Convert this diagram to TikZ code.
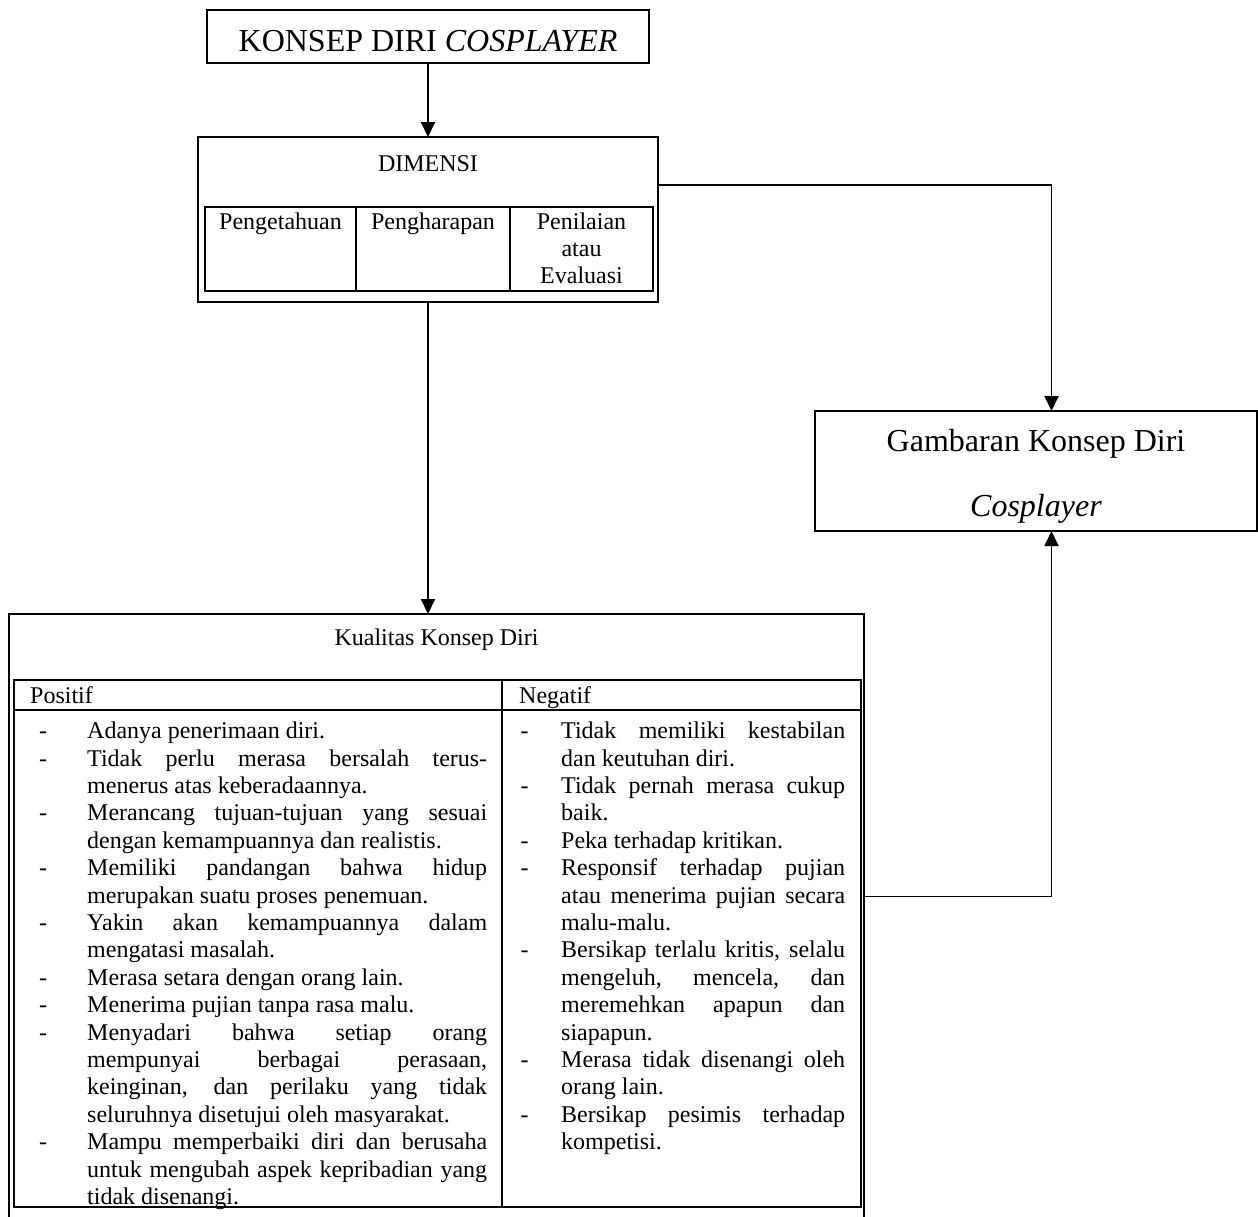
\documentclass[tikz,border=0pt]{standalone}
\usepackage{fontspec}
\setmainfont{Liberation Serif}
\usetikzlibrary{positioning,arrows.meta}
\tolerance=10000
\hyphenpenalty=10000

\newlength{\indenbutir}
\newlength{\geserbutir}
\newcommand{\butir}{\par\noindent\hangindent=\indenbutir\hangafter=1%
  \makebox[\indenbutir][l]{\hspace{\geserbutir}-}}

\tikzset{
    kotak/.style={draw, rectangle, line width=1.5pt, inner sep=0pt, outer sep=0pt},
    sel/.style={draw, rectangle, line width=2.2pt, inner sep=0pt, outer sep=0pt},
    teks/.style={inner sep=0pt, font=\fontsize{24}{27.4}\selectfont},
    besar/.style={inner sep=0pt, font=\fontsize{32}{36}\selectfont},
    daftar/.style n args={3}{teks, anchor=north west, align=justify, text width=#1,
        execute at begin node={\setlength{\indenbutir}{#2}\setlength{\geserbutir}{#3}}}
}

\begin{document}
\begin{tikzpicture}[x=1pt, y=-1pt, >={Triangle[length=15pt, width=14pt]}]
    \useasboundingbox (0,0) rectangle (1258,1216);

    \node[kotak, besar, minimum width=442pt, minimum height=53pt, text height=29pt, text depth=0pt] (judul) at (428,36.5) {KONSEP DIRI \textit{COSPLAYER}};

    \node[kotak, minimum width=460pt, minimum height=165pt] (dimensi) at (428,219.5) {};
    \node[teks, anchor=base, yshift=-34pt] (tdimensi) at (dimensi.north) {DIMENSI};
    \node[sel, minimum width=151pt, minimum height=84pt] (peng) at (280.5,249) {};
    \node[sel, minimum width=154pt, minimum height=84pt, right=0pt of peng] (harap) {};
    \node[sel, minimum width=143pt, minimum height=84pt, right=0pt of harap] (nilai) {};
    \node[teks, anchor=base, yshift=-22pt] (tpeng) at (peng.north) {Pengetahuan};
    \node[teks, anchor=base, yshift=-22pt] (tharap) at (harap.north) {Pengharapan};
    \node[teks, anchor=base, yshift=-22pt, align=center, text width=140pt] (tnilai) at (nilai.north) {Penilaian\\atau\\Evaluasi};

    \node[kotak, minimum width=442pt, minimum height=120pt] (gambaran) at (1036,471) {};
    \node[besar, anchor=base, yshift=-40pt] (tgambaran) at (gambaran.north) {Gambaran Konsep Diri};
    \node[besar, anchor=base, yshift=15pt] (tcosplayer) at (gambaran.south) {\textit{Cosplayer}};

    \node[kotak, minimum width=855pt, minimum height=604pt] (kualitas) at (436.5,916) {};
    \node[teks, anchor=base, yshift=-31pt] (tkualitas) at (kualitas.north) {Kualitas Konsep Diri};
    \node[sel, minimum width=488pt, minimum height=30pt] (hpos) at (258,695) {};
    \node[sel, minimum width=359pt, minimum height=30pt, right=0pt of hpos] (hneg) {};
    \node[sel, minimum width=488pt, minimum height=497pt, below=0pt of hpos] (bpos) {};
    \node[sel, minimum width=359pt, minimum height=497pt, below=0pt of hneg] (bneg) {};
    \node[teks, anchor=base west] (tpos) at ([xshift=16pt, yshift=-23pt]hpos.north west) {Positif};
    \node[teks, anchor=base west] (tneg) at ([xshift=17pt, yshift=-23pt]hneg.north west) {Negatif};

    \node[daftar={456pt}{56pt}{8pt}] (lpos) at ([xshift=17pt, yshift=-1pt]bpos.north west) {%
        \butir Adanya penerimaan diri.
        \butir Tidak perlu merasa bersalah terus-\linebreak menerus atas keberadaannya.
        \butir Merancang tujuan-tujuan yang sesuai\linebreak dengan kemampuannya dan realistis.
        \butir Memiliki pandangan bahwa hidup\linebreak merupakan suatu proses penemuan.
        \butir Yakin akan kemampuannya dalam\linebreak mengatasi masalah.
        \butir Merasa setara dengan orang lain.
        \butir Menerima pujian tanpa rasa malu.
        \butir Menyadari bahwa setiap orang\linebreak mempunyai berbagai perasaan,\linebreak keinginan, dan perilaku yang tidak\linebreak seluruhnya disetujui oleh masyarakat.
        \butir Mampu memperbaiki diri dan berusaha\linebreak untuk mengubah aspek kepribadian yang\linebreak tidak disenangi.\par};
    \node[daftar={332pt}{48pt}{7.5pt}] (lneg) at ([xshift=11pt, yshift=-1pt]bneg.north west) {%
        \butir Tidak memiliki kestabilan\linebreak dan keutuhan diri.
        \butir Tidak pernah merasa cukup\linebreak baik.
        \butir Peka terhadap kritikan.
        \butir Responsif terhadap pujian\linebreak atau menerima pujian secara\linebreak malu-malu.
        \butir Bersikap terlalu kritis, selalu\linebreak mengeluh, mencela, dan\linebreak meremehkan apapun dan\linebreak siapapun.
        \butir Merasa tidak disenangi oleh\linebreak orang lain.
        \butir Bersikap pesimis terhadap\linebreak kompetisi.\par};

    \draw[->, line width=2pt] (judul) -- (dimensi);
    \draw[->, line width=2pt] (dimensi.south) -- (dimensi.south |- kualitas.north);
    \draw[->, line width=1.8pt] ([yshift=34.5pt]dimensi.east) -| ([xshift=15.5pt]gambaran.north);
    \draw[->, line width=1.8pt] ([yshift=19.5pt]kualitas.east) -| ([xshift=15.5pt]gambaran.south);
\end{tikzpicture}
\end{document}
